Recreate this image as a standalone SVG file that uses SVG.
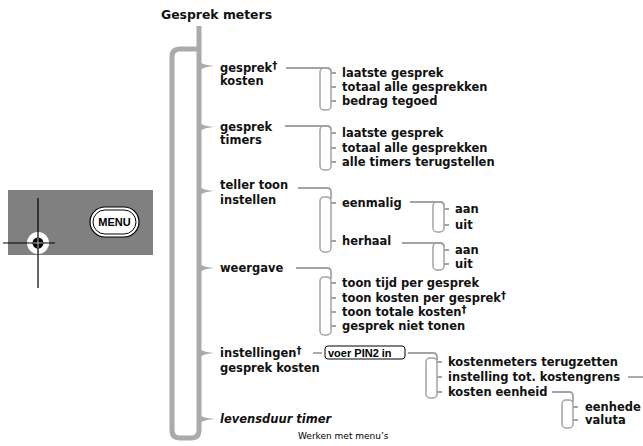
<svg xmlns="http://www.w3.org/2000/svg" width="643" height="446" viewBox="0 0 643 446">
<style>
.t{font-family:"DejaVu Sans",sans-serif;font-weight:bold;font-size:11.5px;fill:#111}
.ti{font-style:italic}
.dg{font-size:10px}
.ln{fill:none;stroke:#a3a3a3;stroke-width:1.8}
.br{fill:none;stroke:#a3a3a3;stroke-width:1.5}
.main{fill:none;stroke:#ababab;stroke-width:5}
.tip{fill:#ababab}
</style>
<rect width="643" height="446" fill="#fff"/>

<g id="menu-picture">
  <rect x="8" y="190" width="145" height="65" fill="#808080"/>
  <rect x="90" y="207" width="49" height="30" rx="15" fill="#fff" stroke="#000" stroke-width="1.2"/>
  <rect x="93" y="210" width="43" height="24" rx="12" fill="#fff" stroke="#000" stroke-width="1"/>
  <text x="114.5" y="226" text-anchor="middle" style="font-family:'Liberation Sans',Arial,sans-serif;font-weight:bold;font-size:11px">MENU</text>
  <circle cx="38" cy="243" r="11" fill="#fff"/>
  <line x1="38" y1="198" x2="38" y2="288" stroke="#000" stroke-width="1.2"/>
  <line x1="3" y1="243" x2="55" y2="243" stroke="#000" stroke-width="1.2"/>
  <circle cx="38" cy="243" r="5.5" fill="#000"/>
  <line x1="38" y1="238" x2="38" y2="248" stroke="#fff" stroke-width="0.7"/>
  <line x1="33" y1="243" x2="43" y2="243" stroke="#fff" stroke-width="0.7"/>
</g>

<g id="title">
  <text class="t" x="161" y="19" style="font-size:12.4px">Gesprek meters</text>
</g>

<g id="connectors">
  <path class="main" d="M199,26 V430 Q199,438 191,438 H180 Q172,438 172,430 V57 Q172,49 180,49 H199"/>
  <path class="tip" d="M197,57 C199,63 203,65 214,66 C203,67 199,69 197,75 Z"/>
  <path class="tip" d="M197,118 C199,124 203,126 214,127 C203,128 199,130 197,136 Z"/>
  <path class="tip" d="M197,182 C199,188 203,190 214,191 C203,192 199,194 197,200 Z"/>
  <path class="tip" d="M197,259 C199,265 203,267 214,268 C203,269 199,271 197,277 Z"/>
  <path class="tip" d="M197,344 C199,350 203,352 214,353 C203,354 199,356 197,362 Z"/>
  <path class="tip" d="M197,410 C199,416 203,418 215,419 C203,420 199,422 197,428 Z"/>

  <path class="ln" d="M286,68 H327 Q331,68 331,72"/>
  <rect class="br" x="320" y="68" width="11" height="42" rx="4"/>
  <path class="ln" d="M331,73 h5 M331,87 h5 M331,101 h5"/>

  <path class="ln" d="M285,126 H327 Q331,126 331,130"/>
  <rect class="br" x="320" y="126" width="11" height="44" rx="4"/>
  <path class="ln" d="M331,133 h5 M331,148 h5 M331,162 h5"/>

  <path class="ln" d="M298,188 H327 Q331,188 331,192 V199"/>
  <rect class="br" x="320" y="197" width="11" height="55" rx="4"/>
  <path class="ln" d="M331,203 h5 M331,241 h5"/>

  <path class="ln" d="M410,202 H440 Q444,202 444,206"/>
  <rect class="br" x="433" y="202" width="11" height="30" rx="4"/>
  <path class="ln" d="M444,209 h5 M444,225 h5"/>

  <path class="ln" d="M402,243 H440 Q444,243 444,247"/>
  <rect class="br" x="433" y="243" width="11" height="27" rx="4"/>
  <path class="ln" d="M444,250 h5 M444,264 h5"/>

  <path class="ln" d="M296,268 H327 Q331,268 331,272 V279"/>
  <rect class="br" x="320" y="277" width="11" height="58" rx="4"/>
  <path class="ln" d="M331,283 h5 M331,298 h5 M331,312 h5 M331,326 h5"/>

  <path class="ln" d="M313,353 H322"/>
  <path class="ln" d="M408,353 H433 Q437,353 437,357 V360"/>
  <rect class="br" x="426" y="358" width="11" height="40" rx="4"/>
  <path class="ln" d="M437,362 h5 M437,377 h5 M437,392 h5"/>
  <path class="ln" d="M628,377 H643"/>

  <path class="ln" d="M552,392 H569 Q573,392 573,396 V402"/>
  <rect class="br" x="562" y="400" width="11" height="28" rx="4"/>
  <path class="ln" d="M573,407 h5 M573,420 h5"/>
</g>

<g id="gesprek-kosten">
  <text class="t" x="220" y="72">gesprek<tspan class="dg" dy="-3.5">†</tspan></text>
  <text class="t" x="220" y="85">kosten</text>
</g>
<g id="gesprek-kosten-items">
  <text class="t" x="342" y="77">laatste gesprek</text>
  <text class="t" x="342" y="91">totaal alle gesprekken</text>
  <text class="t" x="342" y="105">bedrag tegoed</text>
</g>

<g id="gesprek-timers">
  <text class="t" x="220" y="131">gesprek</text>
  <text class="t" x="220" y="144">timers</text>
</g>
<g id="gesprek-timers-items">
  <text class="t" x="342" y="137">laatste gesprek</text>
  <text class="t" x="342" y="152">totaal alle gesprekken</text>
  <text class="t" x="342" y="166">alle timers terugstellen</text>
</g>

<g id="teller-toon">
  <text class="t" x="220" y="189">teller toon</text>
  <text class="t" x="220" y="204">instellen</text>
</g>
<g id="eenmalig">
  <text class="t" x="342" y="207">eenmalig</text>
  <text class="t" x="455" y="213">aan</text>
  <text class="t" x="455" y="229">uit</text>
</g>
<g id="herhaal">
  <text class="t" x="342" y="245">herhaal</text>
  <text class="t" x="455" y="254">aan</text>
  <text class="t" x="455" y="268">uit</text>
</g>

<g id="weergave">
  <text class="t" x="220" y="272">weergave</text>
</g>
<g id="weergave-items">
  <text class="t" x="342" y="287">toon tijd per gesprek</text>
  <text class="t" x="342" y="302">toon kosten per gesprek<tspan class="dg" dy="-3">†</tspan></text>
  <text class="t" x="342" y="316">toon totale kosten<tspan class="dg" dy="-3">†</tspan></text>
  <text class="t" x="342" y="330">gesprek niet tonen</text>
</g>

<g id="instellingen">
  <text class="t" x="220" y="357">instellingen<tspan class="dg" dy="-3.5">†</tspan></text>
  <text class="t" x="220" y="372">gesprek kosten</text>
</g>
<g id="pin2">
  <rect x="325" y="346" width="80" height="13" rx="3" fill="#fff" stroke="#000" stroke-width="1"/>
  <text x="328" y="356.5" style="font-family:'Liberation Sans',Arial,sans-serif;font-weight:bold;font-size:11px">voer PIN2 in</text>
</g>
<g id="instellingen-items">
  <text class="t" x="448" y="366">kostenmeters terugzetten</text>
  <text class="t" x="448" y="381">instelling tot. kostengrens</text>
  <text class="t" x="448" y="396">kosten eenheid</text>
</g>
<g id="kosten-eenheid-items">
  <text class="t" x="585" y="411">eenhede</text>
  <text class="t" x="585" y="424">valuta</text>
</g>

<g id="levensduur">
  <text class="t ti" x="220" y="423">levensduur timer</text>
</g>

<g id="footer">
  <text x="298" y="439" style="font-family:'DejaVu Sans',sans-serif;font-size:9px;fill:#000">Werken met menu’s</text>
</g>
</svg>
